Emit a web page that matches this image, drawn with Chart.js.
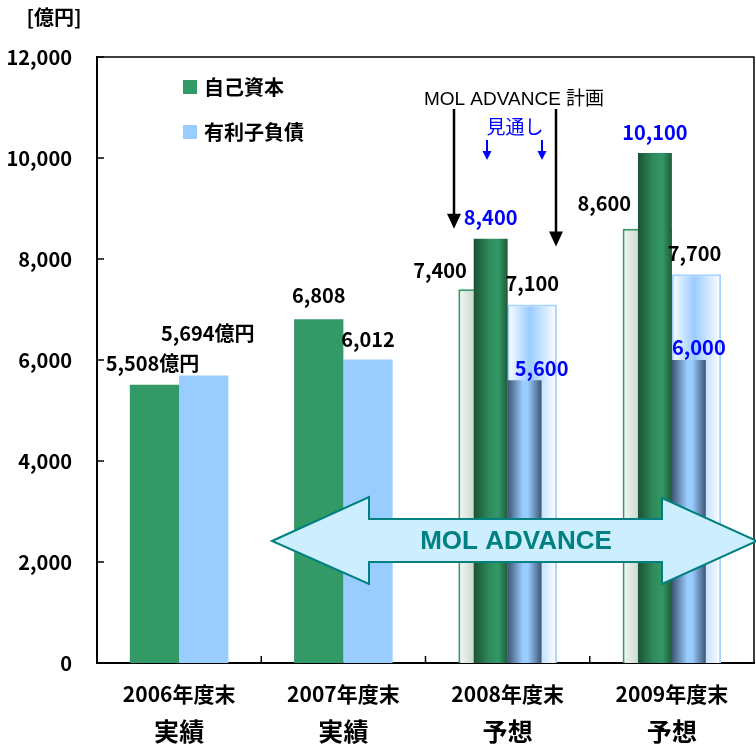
<!DOCTYPE html>
<html lang="ja">
<head>
<meta charset="UTF-8">
<title>自己資本と有利子負債</title>
<script src="https://cdn.jsdelivr.net/npm/chart.js"></script>
<style>
    * { margin: 0; padding: 0; box-sizing: border-box; }
    body { background: #fff; }
    .wrap { width: 756px; height: 747px; position: relative; }
</style>
</head>
<body>
<div class="wrap"><canvas id="chart"></canvas></div>
<script>
// data (億円)
const categories = ['2006年度末', '2007年度末', '2008年度末', '2009年度末'];
const phases = ['実績', '実績', '予想', '予想'];
const seriesNames = ['自己資本', '有利子負債'];
const equity = [5508, 6808, 7400, 8600];          // 実績 / MOL ADVANCE 計画
const debt = [5694, 6012, 7100, 7700];
const equityOutlook = [null, null, 8400, 10100];  // 見通し
const debtOutlook = [null, null, 5600, 6000];
const yMax = 12000;
const yStep = 2000;

const GREEN = '#339966';
const BLUE = '#99ccff';
const JP = "'Noto Sans CJK JP', sans-serif";

const PLAN_PCT = 0.6;
const OUTLOOK_PCT = 0.413;

// horizontal gradient across one bar, edges taken from the x scale
function barGradient(pct, side, stops, solid) {
    return function (c) {
        const chart = c.chart;
        if (!chart.chartArea || c.dataIndex < 2) return solid;
        const xs = chart.scales.x;
        const center = xs.getPixelForValue(c.dataIndex);
        const w = xs.width / categories.length * pct / 2;
        const left = side < 0 ? center - w : center;
        const g = chart.ctx.createLinearGradient(left, 0, left + w, 0);
        stops.forEach(s => g.addColorStop(s[0], s[1]));
        return g;
    };
}

const fmt = v => v.toLocaleString('en-US');

// label offsets from the top centre of each bar
const labelOffsets = [
    [[-2, -21], [0, -24], [-43, -19], [-43, -25]],
    [[4, -42], [0, -20], [0, -21], [-2, -21]],
    [null, null, [0, -21], [0, -21]],
    [null, null, [17, -12], [10, -13]]
];
const labelColors = ['#000', '#000', '#0000ff', '#0000ff'];

const extras = {
    id: 'extras',
    beforeDatasetsDraw(chart) {
        const ctx = chart.ctx;
        const a = chart.chartArea;
        ctx.save();
        // frame top and right
        ctx.strokeStyle = '#000';
        ctx.lineWidth = 1.5;
        ctx.beginPath();
        ctx.moveTo(a.left, a.top);
        ctx.lineTo(a.right, a.top);
        ctx.lineTo(a.right, a.bottom);
        ctx.stroke();
        ctx.restore();
    },
    afterDatasetsDraw(chart) {
        const ctx = chart.ctx;
        const a = chart.chartArea;
        const xs = chart.scales.x, ys = chart.scales.y;
        ctx.save();

        // inner tick marks
        ctx.strokeStyle = '#000';
        ctx.lineWidth = 1.5;
        ys.ticks.forEach(t => {
            const y = ys.getPixelForValue(t.value);
            ctx.beginPath(); ctx.moveTo(a.left, y); ctx.lineTo(a.left + 7, y); ctx.stroke();
        });
        const catW = xs.width / categories.length;
        for (let i = 1; i < categories.length; i++) {
            const x = a.left + catW * i;
            ctx.beginPath(); ctx.moveTo(x, a.bottom); ctx.lineTo(x, a.bottom - 7); ctx.stroke();
        }

        // MOL ADVANCE double arrow
        const cy = 541;
        ctx.beginPath();
        ctx.moveTo(272, cy);
        ctx.lineTo(369, cy - 44);
        ctx.lineTo(369, cy - 22);
        ctx.lineTo(662, cy - 22);
        ctx.lineTo(662, cy - 43);
        ctx.lineTo(757, cy);
        ctx.lineTo(662, cy + 43);
        ctx.lineTo(662, cy + 21);
        ctx.lineTo(369, cy + 21);
        ctx.lineTo(369, cy + 43);
        ctx.closePath();
        ctx.fillStyle = '#cceeff';
        ctx.fill();
        ctx.strokeStyle = '#008080';
        ctx.lineWidth = 2;
        ctx.stroke();
        ctx.fillStyle = '#008080';
        ctx.font = "bold 26px 'Liberation Sans', Arial, sans-serif";
        ctx.textAlign = 'center';
        ctx.textBaseline = 'middle';
        ctx.fillText('MOL ADVANCE', 516, cy + 1);

        // plan arrows
        function arrow(x, y0, y1, head, hw, color, lw) {
            ctx.strokeStyle = color;
            ctx.fillStyle = color;
            ctx.lineWidth = lw;
            ctx.beginPath(); ctx.moveTo(x, y0); ctx.lineTo(x, y1 - head + 1); ctx.stroke();
            ctx.beginPath();
            ctx.moveTo(x - hw, y1 - head); ctx.lineTo(x + hw, y1 - head); ctx.lineTo(x, y1);
            ctx.closePath(); ctx.fill();
        }
        arrow(454, 109, ys.getPixelForValue(8600), 15, 7, '#000', 2.5);
        arrow(556, 109, ys.getPixelForValue(8250), 15, 7, '#000', 2.5);
        arrow(487, 140, 160, 9, 4.5, '#0000ff', 2);
        arrow(542, 140, 160, 9, 4.5, '#0000ff', 2);

        ctx.fillStyle = '#000';
        ctx.font = "19px 'Liberation Sans', Arial, " + JP;
        ctx.fillText('MOL ADVANCE 計画', 514, 100);
        ctx.fillStyle = '#0000ff';
        ctx.font = '19px ' + JP;
        ctx.fillText('見通し', 515, 127);

        // value labels
        ctx.font = 'bold 20px ' + JP;
        chart.data.datasets.forEach((ds, di) => {
            const meta = chart.getDatasetMeta(di);
            meta.data.forEach((el, i) => {
                const v = ds.data[i];
                if (v == null) return;
                const off = labelOffsets[di][i];
                let txt = fmt(v);
                if (i === 0) txt += '億円';
                ctx.fillStyle = labelColors[di];
                ctx.fillText(txt, el.x + off[0], el.y + off[1]);
            });
        });

        // legend
        const legendColors = [GREEN, BLUE];
        seriesNames.forEach((name, k) => {
            const y = 87 + k * 45;
            ctx.fillStyle = legendColors[k];
            ctx.fillRect(183, y - 7, 14, 14);
            ctx.fillStyle = '#000';
            ctx.textAlign = 'left';
            ctx.font = 'bold 20px ' + JP;
            ctx.fillText(name, 204, y);
        });

        // unit
        ctx.textAlign = 'center';
        ctx.font = 'bold 20px ' + JP;
        ctx.fillText('[億円]', 54, 17);

        // category labels
        categories.forEach((c, i) => {
            const x = xs.getPixelForValue(i);
            ctx.font = 'bold 21px ' + JP;
            ctx.fillText(c, x, 694);
            ctx.font = 'bold 25px ' + JP;
            ctx.fillText(phases[i], x, 731);
        });
        ctx.restore();
    }
};

new Chart(document.getElementById('chart'), {
    type: 'bar',
    data: {
        labels: categories,
        datasets: [
            {
                label: seriesNames[0],
                data: equity,
                stack: 'equity',
                order: 2,
                categoryPercentage: PLAN_PCT,
                barPercentage: 1,
                backgroundColor: barGradient(PLAN_PCT, -1,
                    [[0, '#f6f8f6'], [0.35, '#c6d6ca'], [1, '#6f9a7c']], GREEN),
                borderColor: GREEN,
                borderWidth: c => c.dataIndex < 2 ? 0 : 2,
                borderSkipped: 'bottom'
            },
            {
                label: seriesNames[1],
                data: debt,
                stack: 'debt',
                order: 2,
                categoryPercentage: PLAN_PCT,
                barPercentage: 1,
                backgroundColor: barGradient(PLAN_PCT, 1,
                    [[0, '#ffffff'], [0.45, BLUE], [1, '#ffffff']], BLUE),
                borderColor: '#a6d2ff',
                borderWidth: c => c.dataIndex < 2 ? 0 : 2,
                borderSkipped: 'bottom'
            },
            {
                label: seriesNames[0] + '見通し',
                data: equityOutlook,
                stack: 'equity',
                order: 1,
                categoryPercentage: OUTLOOK_PCT,
                barPercentage: 1,
                backgroundColor: barGradient(OUTLOOK_PCT, -1,
                    [[0, '#1b5233'], [0.45, '#2e8a5b'], [0.72, GREEN], [1, '#1f5a3a']], GREEN),
                borderWidth: 0
            },
            {
                label: seriesNames[1] + '見通し',
                data: debtOutlook,
                stack: 'debt',
                order: 1,
                categoryPercentage: OUTLOOK_PCT,
                barPercentage: 1,
                backgroundColor: barGradient(OUTLOOK_PCT, 1,
                    [[0, '#3d5470'], [0.45, BLUE], [0.6, BLUE], [1, '#3d5470']], BLUE),
                borderWidth: 0
            }
        ]
    },
    options: {
        responsive: true,
        maintainAspectRatio: false,
        animation: false,
        layout: { padding: { top: 57, right: 2, left: 0, bottom: 0 } },
        plugins: {
            legend: { display: false },
            tooltip: { enabled: false }
        },
        scales: {
            x: {
                type: 'category',
                offset: true,
                grid: { display: false },
                border: { display: true, color: '#000', width: 2 },
                ticks: { display: false },
                afterFit(s) { s.height = 84; }
            },
            y: {
                min: 0,
                max: yMax,
                stacked: false,
                grid: { display: false, drawTicks: false },
                border: { display: true, color: '#000', width: 2 },
                ticks: {
                    stepSize: yStep,
                    color: '#000',
                    padding: 25,
                    font: { family: JP, size: 20, weight: 'bold' },
                    callback: v => fmt(v)
                },
                afterFit(s) { s.width = 97; }
            }
        }
    },
    plugins: [extras]
});
</script>
</body>
</html>
